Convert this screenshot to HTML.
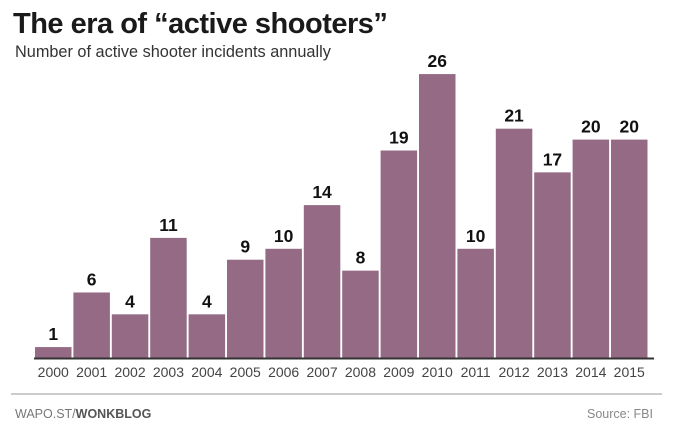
<!DOCTYPE html>
<html><head><meta charset="utf-8"><style>
body{margin:0;background:#fff;width:679px;height:429px;overflow:hidden;font-family:"Liberation Sans",sans-serif}
svg{display:block}
</style></head><body>
<svg width="679" height="429">
<text x="13" y="33" font-size="29" font-weight="bold" fill="#1a1a1a" letter-spacing="-0.5">The era of “active shooters”</text>
<text x="15" y="57" font-size="16.3" fill="#333">Number of active shooter incidents annually</text>
<g id="bars"></g>
<line x1="34" y1="358.5" x2="654" y2="358.5" stroke="#333" stroke-width="2"/>
<line x1="11" y1="394" x2="662" y2="394" stroke="#bbb" stroke-width="1.5"/>
<text x="15" y="418" font-size="12.5" fill="#777">WAPO.ST/<tspan font-weight="bold" fill="#555">WONKBLOG</tspan></text>
<text x="653" y="418" font-size="12.5" fill="#888" text-anchor="end">Source: FBI</text>
</svg>
<script>
const years=["2000","2001","2002","2003","2004","2005","2006","2007","2008","2009","2010","2011","2012","2013","2014","2015"];
const incidents=[1,6,4,11,4,9,10,14,8,19,26,10,21,17,20,20];
const x0=35,pitch=38.4,bw=36.5,base=358,k=10.92;
const xs=i=>x0+i*pitch, ys=v=>base-v*k;
const g=document.getElementById('bars'),NS="http://www.w3.org/2000/svg";
years.forEach((yr,i)=>{
 const v=incidents[i];
 const r=document.createElementNS(NS,'rect');
 r.setAttribute('x',xs(i));r.setAttribute('y',ys(v));r.setAttribute('width',bw);r.setAttribute('height',base-ys(v));r.setAttribute('fill','#946a85');
 
 
 g.appendChild(r);
 const t=document.createElementNS(NS,'text');
 t.setAttribute('x',xs(i)+bw/2);t.setAttribute('y',ys(v)-7);t.setAttribute('text-anchor','middle');t.setAttribute('font-size','17.5');t.setAttribute('font-weight','bold');t.setAttribute('fill','#111');
 t.textContent=v;
 
 
 g.appendChild(t);
 const l=document.createElementNS(NS,'text');
 l.setAttribute('x',xs(i)+bw/2);l.setAttribute('y',377);l.setAttribute('text-anchor','middle');l.setAttribute('font-size','14');l.setAttribute('fill','#444');
 l.textContent=yr;
 
 
 g.appendChild(l);
});
</script>
</body></html>
